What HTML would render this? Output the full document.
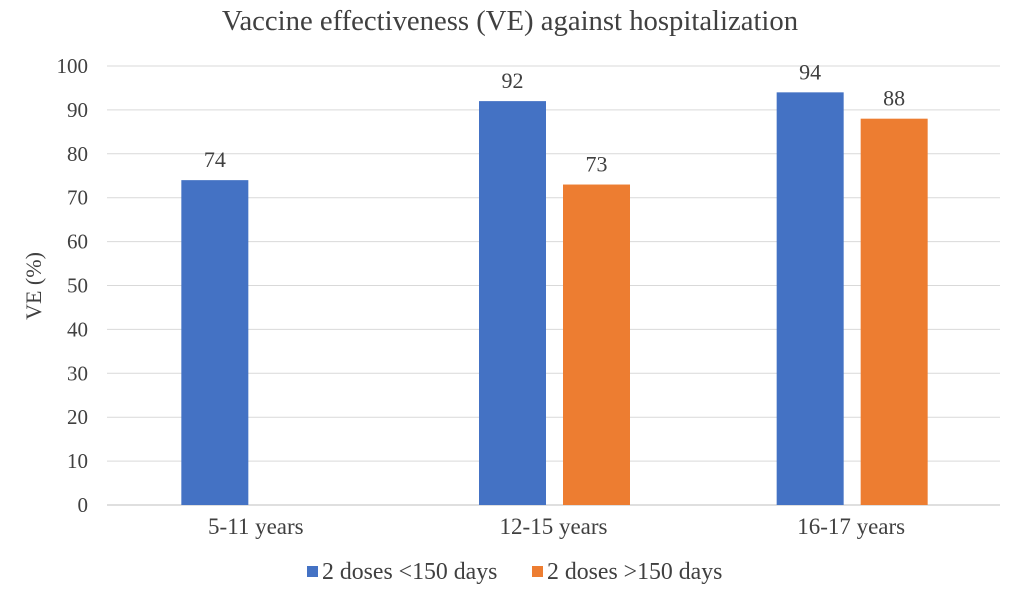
<!DOCTYPE html>
<html><head><meta charset="utf-8"><style>
body{margin:0;background:#fff;}
svg text{font-family:"Liberation Serif","Times New Roman",serif;fill:#404040;}
</style></head><body>
<svg id="chart" width="1020" height="598">
<text x="510" y="30" text-anchor="middle" font-size="28.7">Vaccine effectiveness (VE) against hospitalization</text>
<text transform="translate(41,286) rotate(-90)" text-anchor="middle" font-size="22">VE (%)</text>
<g id="grid"></g><g id="bars"></g><g id="labels"></g>
<g>
<rect x="307" y="566" width="11" height="11" fill="#4472C4"/>
<text x="322" y="579" font-size="23.8">2 doses &lt;150 days</text>
<rect x="532" y="566" width="11" height="11" fill="#ED7D31"/>
<text x="547" y="579" font-size="23.8">2 doses &gt;150 days</text>
</g>
</svg>
<script>
const categories=["5-11 years","12-15 years","16-17 years"];
const seriesUnder150=[74,92,94];
const seriesOver150=[null,73,88];
const yTicks=[0,10,20,30,40,50,60,70,80,90,100];
const NS="http://www.w3.org/2000/svg";
const x0=107,x1=1000,yBase=505,yTop=66;
const y=v=>yBase-(v/100)*(yBase-yTop);
const bw=(x1-x0)/categories.length;
const cx=i=>x0+bw*(i+0.5);
function mk(tag,attrs,parent){const e=document.createElementNS(NS,tag);for(const k in attrs)e.setAttribute(k,attrs[k]);parent.appendChild(e);return e;}
const grid=document.getElementById('grid'),bars=document.getElementById('bars'),labels=document.getElementById('labels');
yTicks.forEach(t=>{
 const l=mk('line',{x1:x0,x2:x1,y1:y(t),y2:y(t),stroke:t===0?'#bfbfbf':'#d9d9d9','stroke-width':1},grid);
 
 
 const tx=mk('text',{x:88,y:y(t)+7,'text-anchor':'end','font-size':21},grid);tx.textContent=t;
 
 
});
categories.forEach((c,i)=>{
 const tx=mk('text',{x:cx(i),y:534,'text-anchor':'middle','font-size':23},labels);tx.textContent=c;
 
 
 [[seriesUnder150,'#4472C4',-7.5-67,'under-150'],[seriesOver150,'#ED7D31',9.5,'over-150']].forEach(([s,col,off,nm])=>{
  const v=s[i];if(v==null)return;
  const r=mk('rect',{x:cx(i)+off,y:y(v),width:67,height:yBase-y(v),fill:col},bars);
  
  
  const lt=mk('text',{x:cx(i)+off+33.5,y:y(v)-13,'text-anchor':'middle','font-size':22},labels);lt.textContent=v;
  
  
 });
});
</script>
</body></html>
